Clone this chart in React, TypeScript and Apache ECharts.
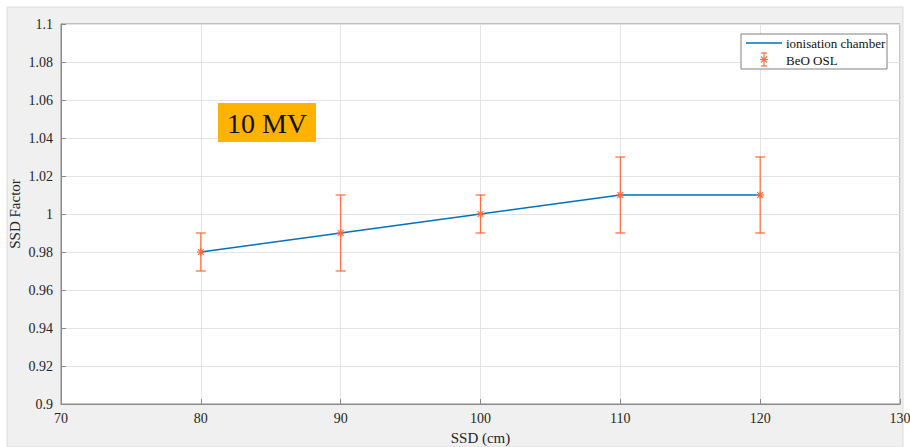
import React, { useEffect, useRef } from "react";
import * as echarts from "echarts";

const ssd = [80, 90, 100, 110, 120];
const chamber = [0.98, 0.99, 1.0, 1.01, 1.01];
const osl = [0.98, 0.99, 1.0, 1.01, 1.01];
const oslLow = [0.97, 0.97, 0.99, 0.99, 0.99];
const oslHigh = [0.99, 1.01, 1.01, 1.03, 1.03];
const seriesNames = ["ionisation chamber", "BeO OSL"];
const annotation = "10 MV";

const BLUE = "#0072BD";
const ORANGE = "#FF6A3A";
const FONT = "Liberation Serif";

export default function App() {
  const ref = useRef<HTMLDivElement>(null);
  useEffect(() => {
    const chart = echarts.init(ref.current!, null, { renderer: "svg" });
    const errData = ssd.map((x, i) => [x, osl[i], oslLow[i], oslHigh[i]]);
    const renderErr = (params: any, api: any) => {
      const x = api.value(0);
      const c = api.coord([x, api.value(1)]);
      const lo = api.coord([x, api.value(2)]);
      const hi = api.coord([x, api.value(3)]);
      const style = { stroke: ORANGE, lineWidth: 1.2, fill: "none" };
      const cap = 5;
      const s = 4;
      const d = 2.9;
      return {
        type: "group",
        children: [
          { type: "line", shape: { x1: lo[0], y1: lo[1], x2: hi[0], y2: hi[1] }, style },
          { type: "line", shape: { x1: lo[0] - cap, y1: lo[1], x2: lo[0] + cap, y2: lo[1] }, style },
          { type: "line", shape: { x1: hi[0] - cap, y1: hi[1], x2: hi[0] + cap, y2: hi[1] }, style },
          { type: "line", shape: { x1: c[0] - s, y1: c[1], x2: c[0] + s, y2: c[1] }, style },
          { type: "line", shape: { x1: c[0], y1: c[1] - s, x2: c[0], y2: c[1] + s }, style },
          { type: "line", shape: { x1: c[0] - d, y1: c[1] - d, x2: c[0] + d, y2: c[1] + d }, style },
          { type: "line", shape: { x1: c[0] - d, y1: c[1] + d, x2: c[0] + d, y2: c[1] - d }, style },
        ],
      };
    };
    const axisCommon = {
      axisLine: { show: true, lineStyle: { color: "#8a8a8a", width: 1 } },
      axisTick: { show: true, inside: true, length: 5, lineStyle: { color: "#8a8a8a" } },
      splitLine: { show: true, lineStyle: { color: "#e3e3e3", width: 1 } },
    };
    const lg = { stroke: ORANGE, lineWidth: 1.2 };
    chart.setOption({
      animation: false,
      backgroundColor: "#ffffff",
      grid: {
        left: 61,
        right: 10,
        top: 24,
        bottom: 43,
        containLabel: false,
        outerBoundsMode: "none",
        show: true,
        backgroundColor: "#ffffff",
        borderColor: "#8a8a8a",
        borderWidth: 1,
      },
      xAxis: {
        type: "value",
        min: 70,
        max: 130,
        interval: 10,
        name: "SSD (cm)",
        nameLocation: "middle",
        nameGap: 26,
        nameTextStyle: { fontFamily: FONT, fontSize: 15, color: "#262626" },
        ...axisCommon,
        axisLabel: { fontFamily: FONT, fontSize: 14, color: "#262626", margin: 7 },
      },
      yAxis: {
        type: "value",
        min: 0.9,
        max: 1.1,
        interval: 0.02,
        name: "SSD Factor",
        nameLocation: "middle",
        nameGap: 39,
        nameMoveOverlap: false,
        nameTextStyle: { fontFamily: FONT, fontSize: 15, color: "#262626" },
        ...axisCommon,
        axisLabel: {
          fontFamily: FONT,
          fontSize: 14,
          color: "#262626",
          margin: 8,
          formatter: (v: number) => String(parseFloat(v.toFixed(2))),
        },
      },
      graphic: [
        {
          type: "rect",
          z: -10,
          silent: true,
          shape: { x: 7, y: 7, width: 896, height: 440 },
          style: { fill: "#f0f0f0", stroke: "#dcdcdc", lineWidth: 1 },
        },
        {
          type: "rect",
          z: 100,
          shape: { x: 218, y: 103, width: 98, height: 39 },
          style: { fill: "#FFB300" },
        },
        {
          type: "text",
          z: 101,
          x: 267,
          y: 123,
          style: {
            text: annotation,
            fontFamily: FONT,
            fontSize: 28,
            fill: "#111111",
            align: "center",
            verticalAlign: "middle",
          },
        },
        {
          type: "rect",
          z: 100,
          shape: { x: 741, y: 34, width: 146, height: 35 },
          style: { fill: "#ffffff", stroke: "#808080", lineWidth: 1 },
        },
        {
          type: "line",
          z: 101,
          shape: { x1: 746, y1: 43, x2: 782, y2: 43 },
          style: { stroke: BLUE, lineWidth: 1.6 },
        },
        {
          type: "text",
          z: 101,
          x: 786,
          y: 43,
          style: { text: seriesNames[0], fontFamily: FONT, fontSize: 13, fill: "#111", verticalAlign: "middle" },
        },
        { type: "line", z: 101, shape: { x1: 764, y1: 53, x2: 764, y2: 66 }, style: lg },
        { type: "line", z: 101, shape: { x1: 761, y1: 53, x2: 767, y2: 53 }, style: lg },
        { type: "line", z: 101, shape: { x1: 761, y1: 66, x2: 767, y2: 66 }, style: lg },
        { type: "line", z: 101, shape: { x1: 760, y1: 59.5, x2: 768, y2: 59.5 }, style: lg },
        { type: "line", z: 101, shape: { x1: 761, y1: 56.5, x2: 767, y2: 62.5 }, style: lg },
        { type: "line", z: 101, shape: { x1: 761, y1: 62.5, x2: 767, y2: 56.5 }, style: lg },
        {
          type: "text",
          z: 101,
          x: 786,
          y: 60,
          style: { text: seriesNames[1], fontFamily: FONT, fontSize: 13, fill: "#111", verticalAlign: "middle" },
        },
      ],
      series: [
        {
          name: seriesNames[0],
          type: "line",
          data: ssd.map((x, i) => [x, chamber[i]]),
          symbol: "none",
          lineStyle: { color: BLUE, width: 1.6 },
          z: 3,
        },
        {
          name: seriesNames[1],
          type: "custom",
          data: errData,
          renderItem: renderErr,
          encode: { x: 0, y: [1, 2, 3] },
          z: 4,
        },
      ],
    });
    return () => chart.dispose();
  }, []);
  return (
    <div
      ref={ref}
      style={{ position: "fixed", left: 0, top: 0, width: 910, height: 447 }}
    />
  );
}
